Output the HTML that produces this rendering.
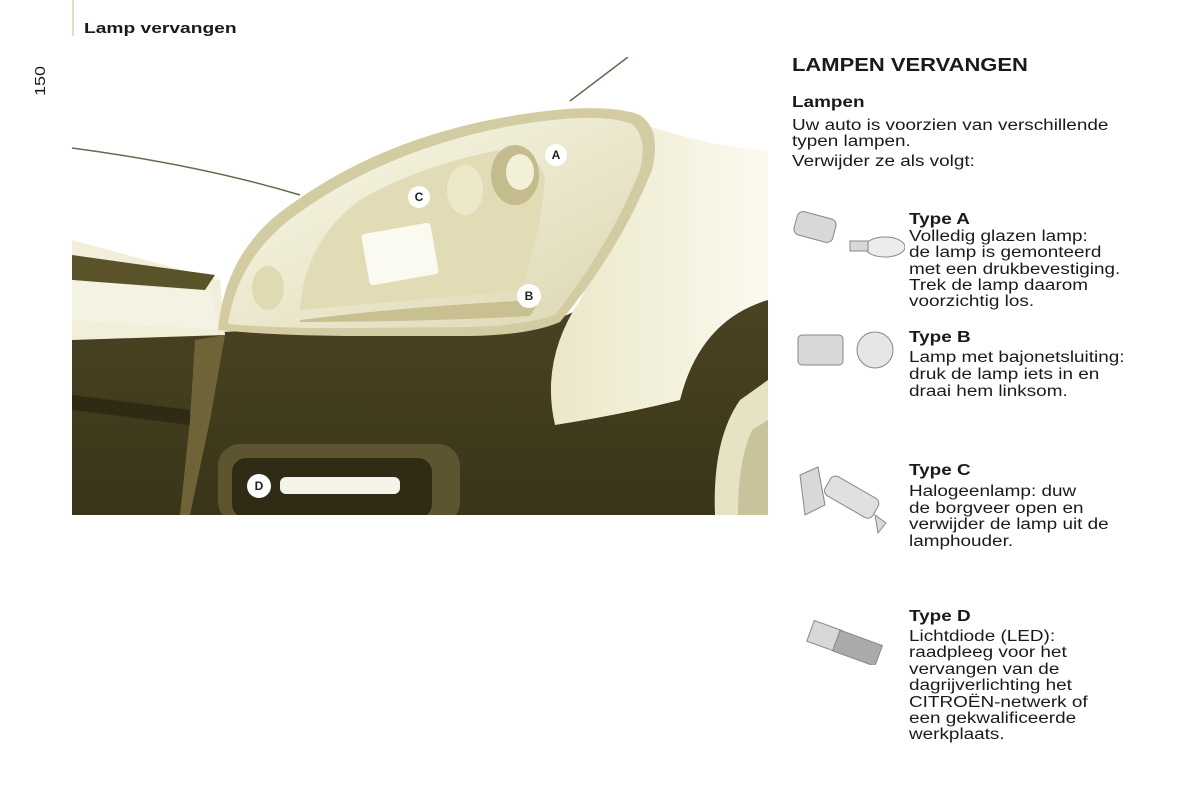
<!DOCTYPE html>
<html><head><meta charset="utf-8"><style>
html,body{margin:0;padding:0;background:#fff;}
body{width:1200px;height:800px;position:relative;overflow:hidden;font-family:"Liberation Sans",Arial,sans-serif;color:#1a1a1a;}
.t{position:absolute;white-space:nowrap;font-size:15.5px;line-height:16.3px;transform:scaleX(1.22);transform-origin:0 0;}
.b{font-weight:bold;}
</style></head><body>
<div style="position:absolute;left:72px;top:0;width:2px;height:36px;background:#e3e0b8"></div>
<div class="t b" style="left:84px;top:21px;font-size:15px;transform:scaleX(1.28)">Lamp vervangen</div>
<div class="t" style="left:33px;top:96px;font-size:15px;transform:rotate(-90deg) scaleX(1.2);transform-origin:0 0;">150</div>

<svg style="position:absolute;left:72px;top:57px" width="696" height="458" viewBox="72 57 696 458">
<defs>
<linearGradient id="lens" x1="0" y1="0" x2="1" y2="1"><stop offset="0" stop-color="#fbfaec"/><stop offset="1" stop-color="#dcd6b0"/></linearGradient>
<linearGradient id="fen" x1="0" y1="0" x2="1" y2="0"><stop offset="0" stop-color="#ebe7c8"/><stop offset="1" stop-color="#fbfaee"/></linearGradient>
<linearGradient id="body" x1="0" y1="0" x2="0" y2="1"><stop offset="0" stop-color="#4e4624"/><stop offset="1" stop-color="#3a3519"/></linearGradient>
</defs>
<rect x="72" y="57" width="696" height="458" fill="#fff"/>
<path d="M72 325 L220 332 L560 318 L600 300 L680 260 L768 250 L768 515 L72 515 Z" fill="url(#body)"/>
<path d="M72 240 L220 280 L225 335 L72 340 Z" fill="#f1efda"/>
<path d="M72 255 L215 275 L205 290 L72 280 Z" fill="#5a5228"/>
<path d="M72 280 L210 292 L220 330 L72 320 Z" fill="#f4f2e2"/>
<path d="M72 395 L190 410 L190 425 L72 410 Z" fill="#2e2a14"/>
<path d="M195 340 L225 335 L210 420 L190 515 L180 515 L190 420 Z" fill="#6e6438"/>
<path d="M72 148 Q200 165 300 195" stroke="#6b6550" stroke-width="1.5" fill="none"/>
<path d="M570 101 L628 57" stroke="#6b6550" stroke-width="1.5" fill="none"/>
<path d="M630 120 Q720 150 768 150 L768 300 Q700 320 680 400 Q620 415 555 425 Q540 360 580 300 Q620 220 630 120 Z" fill="url(#fen)"/>
<path d="M740 400 Q768 380 768 380 L768 515 L715 515 Q712 440 740 400 Z" fill="#e6e2c4"/>
<path d="M752 430 Q768 420 768 420 L768 515 L738 515 Q738 460 752 430 Z" fill="#c9c39b"/>
<path d="M218 330 Q225 250 290 205 Q380 140 500 118 Q600 100 640 115 Q662 130 652 170 Q620 250 560 322 Q530 335 470 336 L360 336 Q280 336 218 330 Z" fill="#d3cca2"/>
<path d="M228 324 Q238 255 300 212 Q385 152 500 128 Q595 110 632 124 Q648 138 640 170 Q610 245 555 315 Q520 326 470 327 L360 328 Q285 329 228 324 Z" fill="url(#lens)"/>
<path d="M300 310 Q305 240 360 200 Q420 165 500 150 Q540 150 545 180 Q540 240 520 290 Q420 300 300 310 Z" fill="#e2dcb6"/>
<rect x="365" y="228" width="70" height="52" rx="4" fill="#fafaf0" transform="rotate(-10 400 254)"/>
<ellipse cx="465" cy="190" rx="18" ry="25" fill="#ece8c9"/>
<ellipse cx="515" cy="175" rx="24" ry="30" fill="#c4bc8e"/>
<ellipse cx="520" cy="172" rx="14" ry="18" fill="#f3f0d8"/>
<ellipse cx="268" cy="288" rx="16" ry="22" fill="#e0dab3"/>
<path d="M300 320 Q420 305 540 300 L530 316 Q420 322 300 322 Z" fill="#c8c090"/>
<rect x="218" y="444" width="242" height="80" rx="22" fill="#5d5530"/>
<rect x="232" y="458" width="200" height="60" rx="14" fill="#2f2b15"/>
<rect x="280" y="477" width="120" height="17" rx="6" fill="#f4f3ea"/>
<g font-family="Liberation Sans,sans-serif" font-weight="bold" font-size="12" fill="#222" text-anchor="middle">
<circle cx="556" cy="155" r="11" fill="#fff"/><text x="556" y="159">A</text>
<circle cx="419" cy="197" r="11" fill="#fff"/><text x="419" y="201">C</text>
<circle cx="529" cy="296" r="12" fill="#fff"/><text x="529" y="300">B</text>
<circle cx="259" cy="486" r="12" fill="#fff"/><text x="259" y="490">D</text>
</g>
</svg>

<div class="t b" style="left:792px;top:55px;font-size:18px;line-height:20px">LAMPEN VERVANGEN</div>
<div class="t b" style="left:792px;top:95px">Lampen</div>
<div class="t" style="left:792px;top:118px">Uw auto is voorzien van verschillende<br>typen lampen.</div>
<div class="t" style="left:792px;top:154px">Verwijder ze als volgt:</div>

<svg style="position:absolute;left:790px;top:205px" width="115" height="460">
<g fill="#d8d8d8" stroke="#888" stroke-width="1">
<rect x="5" y="10" width="40" height="24" rx="6" transform="rotate(15 25 22)"/>
<ellipse cx="95" cy="42" rx="20" ry="10" fill="#ececec"/>
<rect x="60" y="36" width="18" height="10"/>
<rect x="8" y="130" width="45" height="30" rx="4"/>
<circle cx="85" cy="145" r="18" fill="#e6e6e6"/>
<path d="M10 270 L28 262 L35 300 L15 310 Z"/>
<rect x="35" y="280" width="55" height="22" rx="6" transform="rotate(30 60 290)" fill="#e0e0e0"/>
<path d="M85 310 L96 318 L88 328 Z"/>
<rect x="20" y="420" width="30" height="22" transform="rotate(20 35 430)"/>
<rect x="45" y="432" width="45" height="22" transform="rotate(20 67 443)" fill="#aaa"/>
</g>
</svg>

<div class="t b" style="left:909px;top:212px">Type A</div>
<div class="t" style="left:909px;top:229px">Volledig glazen lamp:<br>de lamp is gemonteerd<br>met een drukbevestiging.<br>Trek de lamp daarom<br>voorzichtig los.</div>
<div class="t b" style="left:909px;top:330px">Type B</div>
<div class="t" style="left:909px;top:349px;line-height:17px">Lamp met bajonetsluiting:<br>druk de lamp iets in en<br>draai hem linksom.</div>
<div class="t b" style="left:909px;top:463px">Type C</div>
<div class="t" style="left:909px;top:484px;line-height:16.7px">Halogeenlamp: duw<br>de borgveer open en<br>verwijder de lamp uit de<br>lamphouder.</div>
<div class="t b" style="left:909px;top:609px">Type D</div>
<div class="t" style="left:909px;top:629px;line-height:16.4px">Lichtdiode (LED):<br>raadpleeg voor het<br>vervangen van de<br>dagrijverlichting het<br>CITROËN-netwerk of<br>een gekwalificeerde<br>werkplaats.</div>
</body></html>
